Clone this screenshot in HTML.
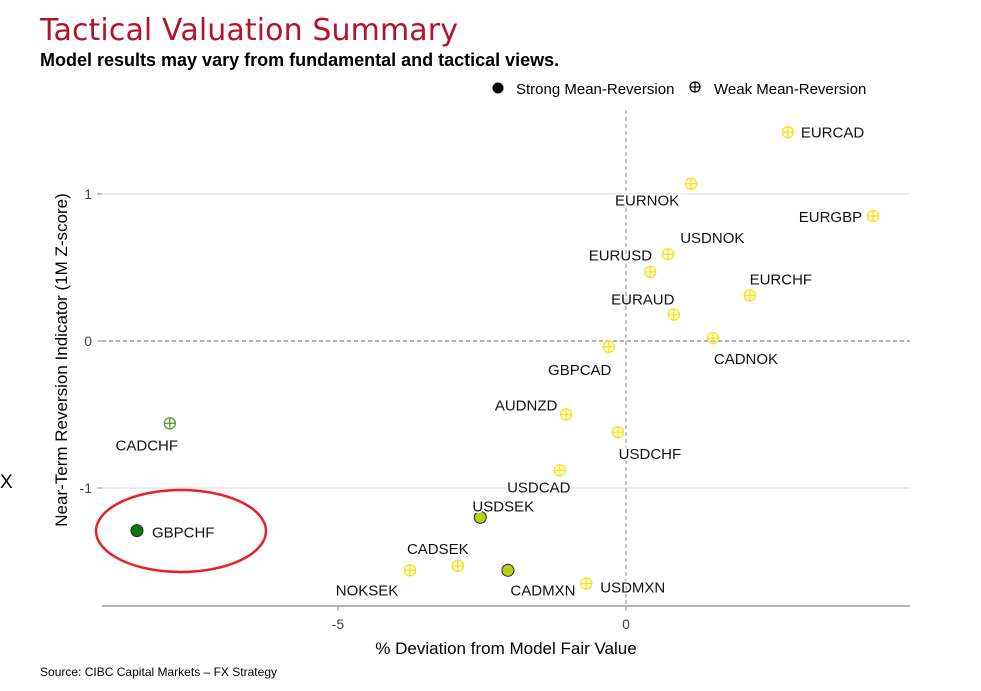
<!DOCTYPE html>
<html><head><meta charset="utf-8"><style>
body{margin:0;background:#fff;width:981px;height:686px;overflow:hidden;font-family:"Liberation Sans",sans-serif}
svg text{font-family:"Liberation Sans",sans-serif}
</style></head><body>
<svg id="chart" width="981" height="686" viewBox="0 0 981 686" xmlns="http://www.w3.org/2000/svg">
<text x="40" y="40" font-size="30" fill="#b5122e" style="font-family:'DejaVu Sans',sans-serif" textLength="418">Tactical Valuation Summary</text>
<text x="40" y="66" font-size="18" font-weight="bold" fill="#000">Model results may vary from fundamental and tactical views.</text>
<g>
<circle cx="498" cy="88" r="5.5" fill="#000"/>
<text x="516" y="94" font-size="15">Strong Mean-Reversion</text>
<g stroke="#000" stroke-width="1.2" fill="none"><circle cx="695" cy="87" r="5"/><line x1="690" y1="87" x2="700" y2="87"/><line x1="695" y1="82" x2="695" y2="92"/></g>
<text x="714" y="94" font-size="15">Weak Mean-Reversion</text>
</g>
<g id="grid"></g>
<g id="marks"></g>
<line x1="102" y1="606" x2="910" y2="606" stroke="#888" stroke-width="1.2"/>
<text transform="translate(67,360) rotate(-90)" text-anchor="middle" font-size="17">Near-Term Reversion Indicator (1M Z-score)</text>
<text x="506" y="654" text-anchor="middle" font-size="17">% Deviation from Model Fair Value</text>
<text x="0" y="488" font-size="19">X</text>
<text x="40" y="676" font-size="12" textLength="237">Source: CIBC Capital Markets – FX Strategy</text>
<ellipse cx="181" cy="531" rx="85" ry="41" fill="none" stroke="#e8202a" stroke-width="2.5"/>
</svg>
<script>
const pairs=["EURCAD","EURNOK","EURGBP","EURUSD","USDNOK","EURCHF","EURAUD","CADNOK","GBPCAD","AUDNZD","CADCHF","USDCHF","USDCAD","USDSEK","GBPCHF","CADSEK","NOKSEK","CADMXN","USDMXN"];
const deviation=[2.81,1.13,4.29,0.73,0.42,2.15,0.83,1.51,-0.30,-1.04,-7.92,-0.14,-1.15,-2.53,-8.49,-2.92,-3.75,-2.05,-0.69];
const zscore=[1.42,1.07,0.85,0.59,0.47,0.31,0.18,0.02,-0.04,-0.50,-0.56,-0.62,-0.88,-1.20,-1.29,-1.53,-1.56,-1.56,-1.65];
const strong=[0,0,0,0,0,0,0,0,0,0,0,0,0,1,1,0,0,1,0];
const colors=["#f7e51a","#f7e51a","#f7e51a","#f7e51a","#f7e51a","#f7e51a","#f7e51a","#f7e51a","#f7e51a","#f7e51a","#6a9a3a","#f7e51a","#f7e51a","#b8cf1a","#0b7a0b","#e6e41a","#f0e41a","#b8cf1a","#f7e51a"];
const xTicks=[-5,0];
const yTicks=[1,0,-1];
// label placement (style)
const lblDx=[13,-44,-11,-16,30,31,-31,33,-29,-40,-23,32,-21,23,15,-20,-43,35,14];
const lblDy=[5,22,6,6,-29,-11,-10,26,28,-4,27,27,22,-6,7,-12,25,25,9];
const lblAnchor=["start","middle","end","end","start","middle","middle","middle","middle","middle","middle","middle","middle","middle","start","middle","middle","middle","start"];
const X=v=>626+v*57.6, Y=v=>341-v*147;
const NS="http://www.w3.org/2000/svg";
const grid=document.getElementById('grid'), marks=document.getElementById('marks');
function mk(tag,attrs,parent){const e=document.createElementNS(NS,tag);for(const k in attrs)e.setAttribute(k,attrs[k]);parent.appendChild(e);return e;}
yTicks.forEach(t=>{
  const l=mk('line',{x1:102,x2:910,y1:Y(t),y2:Y(t),stroke:t===0?'#888':'#e0e0e0','stroke-width':1.2,'stroke-dasharray':t===0?'4,3':'none'},grid);
  
  
  const tk=mk('line',{x1:97,x2:102,y1:Y(t),y2:Y(t),stroke:'#888'},grid);
  
  
  const tx=mk('text',{x:92,y:Y(t)+5,'text-anchor':'end','font-size':14,fill:'#444'},grid);tx.textContent=t;
  
  
});
const vz=mk('line',{x1:X(0),x2:X(0),y1:110,y2:606,stroke:'#888','stroke-dasharray':'4,3'},grid);


xTicks.forEach(t=>{
  const tk=mk('line',{x1:X(t),x2:X(t),y1:606,y2:611,stroke:'#888'},grid);
  
  
  const tx=mk('text',{x:X(t),y:629,'text-anchor':'middle','font-size':14,fill:'#444'},grid);tx.textContent=t;
  
  
});
pairs.forEach((p,i)=>{
  const cx=X(deviation[i]),cy=Y(zscore[i]);
  const g=mk('g',{},marks);
  
  
  if(strong[i]){
    mk('circle',{cx,cy,r:6,fill:colors[i],stroke:'#222','stroke-width':1},g);
  }else{
    mk('circle',{cx,cy,r:5.5,fill:'none',stroke:colors[i],'stroke-width':1.4},g);
    mk('line',{x1:cx-5.5,x2:cx+5.5,y1:cy,y2:cy,stroke:colors[i],'stroke-width':1.4},g);
    mk('line',{x1:cx,x2:cx,y1:cy-5.5,y2:cy+5.5,stroke:colors[i],'stroke-width':1.4},g);
  }
});
pairs.forEach((p,i)=>{
  const cx=X(deviation[i]),cy=Y(zscore[i]);
  const t=mk('text',{x:cx+lblDx[i],y:cy+lblDy[i],'text-anchor':lblAnchor[i],'font-size':15,fill:'#111',stroke:'#fff','stroke-width':3,'paint-order':'stroke'},marks);
  t.textContent=p;
  
  
});
</script>
</body></html>
